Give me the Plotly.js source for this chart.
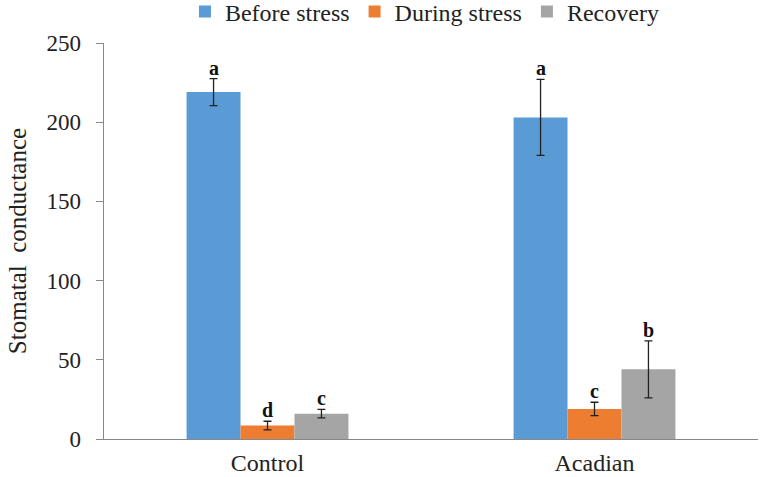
<!DOCTYPE html>
<html>
<head>
<meta charset="utf-8">
<script src="https://cdn.plot.ly/plotly-3.0.1.min.js"></script>
<style>html,body{margin:0;padding:0;background:#fff;}#chart{width:760px;height:477px;}</style>
</head>
<body>
<div id="chart"></div>
<script>
const categories = ["Control", "Acadian"];
const seriesNames = ["Before stress", "During stress", "Recovery"];
const beforeStress = [219, 203];
const beforeStressErr = [8.5, 24];
const duringStress = [8.5, 19];
const duringStressErr = [2.7, 4.2];
const recovery = [16, 44];
const recoveryErr = [2.7, 18];
const beforeLetters = ["a", "a"];
const duringLetters = ["d", "c"];
const recoveryLetters = ["c", "b"];
const yTicks = [0, 50, 100, 150, 200, 250];

const FONT = "Liberation Serif";
const colors = ["#5B9BD5", "#ED7D31", "#A5A5A5"];
const vals = [beforeStress, duringStress, recovery];
const errs = [beforeStressErr, duringStressErr, recoveryErr];
const letters = [beforeLetters, duringLetters, recoveryLetters];

const traces = vals.map((v, i) => ({
  type: "bar",
  name: seriesNames[i],
  x: categories,
  y: v,
  marker: {color: colors[i]},
  error_y: {type: "data", array: errs[i], visible: true, color: "#222", thickness: 1.3, width: 4},
  offsetgroup: String(i)
}));

const annotations = [];
const nS = 3;
const groupW = 0.495;
vals.forEach((v, s) => {
  v.forEach((val, c) => {
    const off = -groupW / 2 + groupW / nS * (s + 0.5);
    annotations.push({
      x: c + off, y: val + errs[s][c], xref: "x", yref: "y",
      text: "<b>" + letters[s][c] + "</b>", showarrow: false,
      yanchor: "bottom", yshift: -2,
      font: {family: FONT, size: 20, color: "#111"}
    });
  });
});

const layout = {
  width: 760, height: 477,
  margin: {l: 104, r: 2, t: 43, b: 38},
  paper_bgcolor: "#fff", plot_bgcolor: "#fff",
  font: {family: FONT, size: 24, color: "#222"},
  barmode: "group",
  bargap: 0.505, bargroupgap: 0,
  showlegend: true,
  legend: {orientation: "h", xref: "paper", x: 0.49, xanchor: "center",
           yref: "container", y: 0.975, yanchor: "middle",
           font: {family: FONT, size: 24, color: "#222"}, itemwidth: 30, tracegroupgap: 0},
  xaxis: {
    type: "category", showline: true, linecolor: "#888", linewidth: 1.3, automargin: false,
    ticks: "", showgrid: false, zeroline: false, ticklabelstandoff: 2,
    tickfont: {family: FONT, size: 24, color: "#222"}
  },
  yaxis: {
    range: [0, 250], tickvals: yTicks, showline: true, linecolor: "#888", linewidth: 1.3,
    ticks: "outside", ticklen: 7, tickcolor: "#888", showgrid: false, zeroline: false,
    ticklabelstandoff: 10, automargin: false,
    tickfont: {family: FONT, size: 23, color: "#222"},
    title: {text: "Stomatal  conductance", font: {family: FONT, size: 25, color: "#222"}, standoff: 12}
  },
  annotations: annotations
};

Plotly.newPlot("chart", traces, layout, {displayModeBar: false, staticPlot: true});
</script>
</body>
</html>
